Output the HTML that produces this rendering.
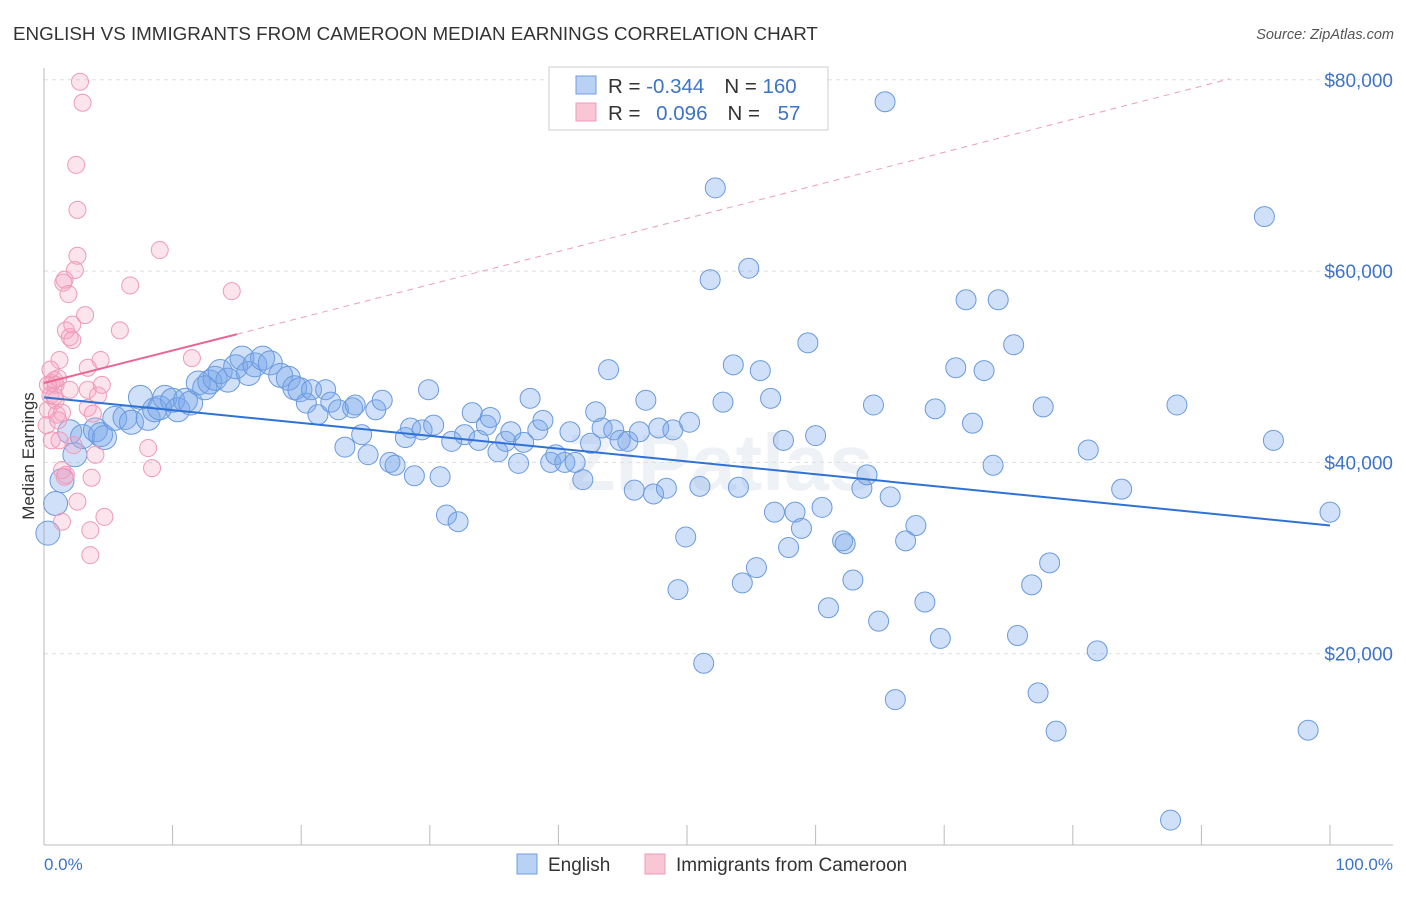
<!DOCTYPE html>
<html><head><meta charset="utf-8"><style>
body{margin:0;background:#fff;font-family:"Liberation Sans",sans-serif}
svg text{font-family:"Liberation Sans",sans-serif}
</style></head><body>
<svg id="chart" width="1406" height="892" xmlns="http://www.w3.org/2000/svg">
<text x="13" y="40" font-size="18.8" fill="#333">ENGLISH VS IMMIGRANTS FROM CAMEROON MEDIAN EARNINGS CORRELATION CHART</text>
<text x="1394" y="39" font-size="14.5" fill="#555" font-style="italic" text-anchor="end">Source: ZipAtlas.com</text>
<text x="720" y="490" font-size="80" fill="#eef1f5" text-anchor="middle" font-weight="bold">ZIPatlas</text>
<g id="grid"></g><g id="axes"></g><g id="pts"></g><g id="trends"></g>
<text transform="translate(34,456) rotate(-90)" font-size="17" fill="#333" text-anchor="middle">Median Earnings</text>
<text x="44" y="870" font-size="17" fill="#3d73c9">0.0%</text>
<text x="1393" y="870" font-size="17" fill="#3d73c9" text-anchor="end">100.0%</text>
<g>
<rect x="549" y="67" width="279" height="63" fill="#fff" stroke="#ccc"/>
<rect x="576" y="76" width="20" height="18" fill="#b9d1f3" stroke="#6f9ce0"/>
<rect x="576" y="103" width="20" height="18" fill="#f9c6d6" stroke="#ef9ab8"/>
<text x="608" y="93" font-size="20.5" fill="#333">R = <tspan fill="#3d73c9">-0.344</tspan><tspan dx="20">N = </tspan><tspan fill="#3d73c9">160</tspan></text>
<text x="608" y="120" font-size="20.5" fill="#333">R = <tspan fill="#3d73c9" dx="10">0.096</tspan><tspan dx="20">N = </tspan><tspan fill="#3d73c9" dx="12">57</tspan></text>
</g>
<g>
<rect x="517" y="854" width="20" height="20" fill="#b9d1f3" stroke="#6f9ce0"/>
<text x="548" y="871" font-size="19" fill="#333">English</text>
<rect x="645" y="854" width="20" height="20" fill="#f9c6d6" stroke="#ef9ab8"/>
<text x="676" y="871" font-size="19" fill="#333">Immigrants from Cameroon</text>
</g>
</svg>
<script>
const yTicks=[20000,40000,60000,80000];
const yTickLabels=["$20,000","$40,000","$60,000","$80,000"];
const xTicks=[0,10,20,30,40,50,60,70,80,90,100];
const blueX=[0.3,0.9,1.4,2.0,2.4,3.0,4.0,4.4,4.7,5.5,6.3,6.8,7.5,8.1,8.6,9.0,9.4,10.0,10.4,11.0,11.4,12.0,12.5,12.9,13.3,13.7,14.3,14.9,15.4,15.9,16.4,17.0,17.6,18.4,19.0,19.5,19.9,20.4,20.8,21.3,21.9,22.3,22.9,23.4,24.0,24.2,24.7,25.2,25.8,26.3,26.9,27.3,28.1,28.5,28.8,29.4,29.9,30.3,30.8,31.3,31.7,32.2,32.7,33.3,33.8,34.4,34.7,35.3,35.9,36.3,36.9,37.3,37.8,38.4,38.8,39.4,39.8,40.5,40.9,41.3,41.9,42.5,42.9,43.4,43.9,44.3,44.8,45.4,45.9,46.3,46.8,47.4,47.8,48.4,48.9,49.3,49.9,50.2,51.0,51.3,51.8,52.2,52.8,53.6,54.0,54.3,54.8,55.4,55.7,56.5,56.8,57.5,57.9,58.4,58.9,59.4,60.0,60.5,61.0,62.1,62.3,62.9,63.6,64.0,64.5,64.9,65.4,65.8,66.2,67.0,67.8,68.5,69.3,69.7,70.9,71.7,72.2,73.1,73.8,74.2,75.4,75.7,76.8,77.3,77.7,78.2,78.7,81.2,81.9,83.8,87.6,88.1,94.9,95.6,98.3,100];
const blueY=[32.6,35.7,38.1,43.2,40.8,42.7,43.4,42.9,42.6,44.6,44.7,44.2,46.8,44.6,45.5,45.7,46.8,46.5,45.5,46.5,46.2,48.3,47.8,48.4,48.8,49.5,48.6,50.0,50.9,49.3,50.2,50.9,50.4,49.1,48.8,47.8,47.6,46.2,47.6,45.0,47.6,46.3,45.5,41.6,45.7,46.0,42.9,40.8,45.5,46.5,40.0,39.7,42.6,43.6,38.6,43.4,47.6,43.9,38.5,34.5,42.2,33.8,42.9,45.2,42.3,43.9,44.7,41.1,42.2,43.2,39.9,42.1,46.7,43.4,44.4,40.0,40.8,40.0,43.2,40.0,38.2,42.0,45.3,43.6,49.7,43.4,42.3,42.2,37.1,43.2,46.5,36.7,43.6,37.3,43.4,26.7,32.2,44.2,37.5,19.0,59.1,68.7,46.3,50.2,37.4,27.4,60.3,29.0,49.6,46.7,34.8,42.3,31.1,34.8,33.1,52.5,42.8,35.3,24.8,31.8,31.5,27.7,37.3,38.7,46.0,23.4,77.7,36.4,15.2,31.8,33.4,25.4,45.6,21.6,49.9,57.0,44.1,49.6,39.7,57.0,52.3,21.9,27.2,15.9,45.8,29.5,11.9,41.3,20.3,37.2,2.6,46.0,65.7,42.3,12.0,34.8];
const pinkX=[0.2,0.3,0.5,0.6,0.8,0.9,0.9,1.1,1.2,1.4,1.5,1.6,1.6,1.7,1.9,2.0,2.2,2.3,2.4,2.5,2.6,2.6,2.6,2.8,3.0,3.2,3.4,3.4,3.6,3.6,3.7,3.8,4.0,4.2,4.4,4.5,4.7,5.9,6.7,8.1,8.4,9.0,11.5,14.6,0.3,0.6,1.0,1.4,1.7,2.0,2.2,0.5,0.8,1.1,1.2,1.4,3.4];
const pinkY=[43.9,45.5,47.0,48.3,48.6,46.5,48.1,48.8,50.7,33.8,58.8,59.1,38.5,53.8,57.6,53.1,54.4,41.8,60.1,71.1,66.4,61.6,35.9,79.8,77.6,55.4,47.6,45.7,32.9,30.3,38.4,45.1,40.8,47.0,50.7,48.1,34.3,53.8,58.5,41.5,39.4,62.2,50.9,57.9,48.1,42.3,45.0,45.2,38.7,47.6,52.8,49.7,46.9,44.4,42.3,39.2,49.9];
const blueTrendX=[0,100], blueTrendY=[46.8,33.4];
const pinkTrendX=[0,15], pinkTrendY=[48.3,53.4];
const pinkDashX=[15,92.2], pinkDashY=[53.4,80.1];

const NS="http://www.w3.org/2000/svg";
const X0=44,X1=1330,YB=845,PPV=191.3/20000;
function sx(p){return X0+(X1-X0)*p/100;}
function sy(v){return YB-v*PPV;}
function mk(t,a,parent){const e=document.createElementNS(NS,t);for(const k in a)e.setAttribute(k,a[k]);document.getElementById(parent).appendChild(e);return e;}

yTicks.forEach((v,i)=>{
  const l=mk('line',{x1:X0,x2:1393,y1:sy(v),y2:sy(v),stroke:'#ddd','stroke-dasharray':'4,4'},'grid');
  
  
  const t=mk('text',{x:1393,y:sy(v)+7,'font-size':19,fill:'#3d73c9','text-anchor':'end'},'grid');
  t.textContent=yTickLabels[i];
  
  
});
const ya=mk('line',{x1:X0,x2:X0,y1:68,y2:YB,stroke:'#bbb'},'axes');


const xa=mk('line',{x1:X0,x2:1393,y1:YB,y2:YB,stroke:'#bbb'},'axes');


xTicks.forEach(p=>{
  const t=mk('line',{x1:sx(p),x2:sx(p),y1:YB,y2:YB-20,stroke:'#bbb'},'axes');
  
  
});
blueX.forEach((p,i)=>{
  const r=p<20?12:10;
  const c=mk('circle',{cx:sx(p),cy:sy(blueY[i]*1000),r:r,fill:'rgba(120,165,235,0.35)',stroke:'#6a9ade','stroke-width':1},'pts');
  
  
});
pinkX.forEach((p,i)=>{
  const c=mk('circle',{cx:sx(p),cy:sy(pinkY[i]*1000),r:8.5,fill:'rgba(245,165,195,0.3)',stroke:'#ef9ab8','stroke-width':1},'pts');
  
  
});
const bt=mk('line',{x1:sx(blueTrendX[0]),y1:sy(blueTrendY[0]*1000),x2:sx(blueTrendX[1]),y2:sy(blueTrendY[1]*1000),stroke:'#2f72d6','stroke-width':2},'trends');


const pt=mk('line',{x1:sx(pinkTrendX[0]),y1:sy(pinkTrendY[0]*1000),x2:sx(pinkTrendX[1]),y2:sy(pinkTrendY[1]*1000),stroke:'#e8668f','stroke-width':2},'trends');


const pd=mk('line',{x1:sx(pinkDashX[0]),y1:sy(pinkDashY[0]*1000),x2:sx(pinkDashX[1]),y2:sy(pinkDashY[1]*1000),stroke:'#eba0b8','stroke-width':1,'stroke-dasharray':'6,5'},'trends');


</script>
</body></html>
